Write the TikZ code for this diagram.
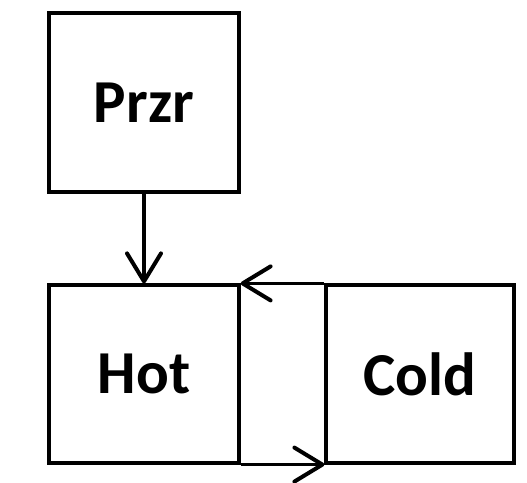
\documentclass[tikz,border=0pt]{standalone}
\usepackage{fontspec}
\setmainfont{Carlito}
\usetikzlibrary{arrows.meta, positioning}

\begin{document}
\begin{tikzpicture}[
        x=1pt, y=1pt,
        box/.style={rectangle, draw, line width=3.2pt, minimum height=178pt, inner sep=0pt, font=\fontsize{61}{64}\selectfont\bfseries},
        arrow/.style={-{Straight Barb[length=28pt, width=34pt, line width=4pt 0, round]}, line width=3.2pt}
    ]
        \useasboundingbox (0,0) rectangle (527,482);

        % Pressurizer
        \node[box, minimum width=190pt, minimum height=179pt] (przr) at (144,379.5) {Przr};

        % Hot and cold legs
        \node[box, minimum width=190pt] (hot) at (144,108) {Hot};
        \node[box, minimum width=188pt] (cold) at (420,108) {Cold};

        \draw[arrow] (przr.south) -- (hot.north);
        \draw[arrow] (cold.north west) -- (hot.north east);
        \draw[arrow] (hot.south east) -- (cold.south west);

    \end{tikzpicture}
\end{document}
